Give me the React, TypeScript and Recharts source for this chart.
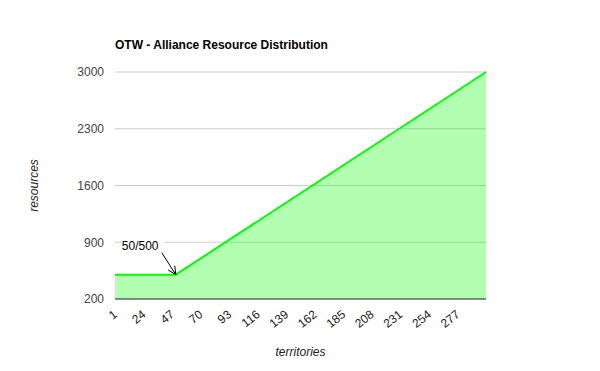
import React from "react";
import { AreaChart, Area, XAxis, YAxis, CartesianGrid, ReferenceDot, Label } from "recharts";

const territories = [1, 50, 300];
const resources = [500, 500, 3000];
const xTicks = [1, 24, 47, 70, 93, 116, 139, 162, 185, 208, 231, 254, 277];
const yTicks = [200, 900, 1600, 2300, 3000];
const annotationText = "50/500";
const annotationPoint = { t: 50, r: 500 };

const data = territories.map((t, i) => ({ t, r: resources[i] }));

const FONT = "'Liberation Sans', Arial, sans-serif";

const XTick = (props: any) => {
  const { x, y, payload } = props;
  const ax = x + 3;
  const ay = y + 9;
  return (
    <text
      x={ax}
      y={ay}
      textAnchor="end"
      fontFamily={FONT}
      fontSize={12}
      fill="#222"
      transform={`rotate(-38, ${ax}, ${ay})`}
    >
      {payload.value}
    </text>
  );
};

const Annotation = (props: any) => {
  const { cx, cy } = props;
  const sx = cx - 14;
  const sy = cy - 22;
  const ang = Math.atan2(cy - sy, cx - sx);
  const ah = 9;
  const a1 = ang + Math.PI - 0.45;
  const a2 = ang + Math.PI + 0.45;
  return (
    <g>
      <rect x={cx - 55} y={cy - 37} width={44} height={14} fill="#fff" />
      <text x={cx - 54} y={cy - 25} fontFamily={FONT} fontSize={12} fill="#000">
        {annotationText}
      </text>
      <line x1={sx} y1={sy} x2={cx} y2={cy} stroke="#000" strokeWidth={1} />
      <line x1={cx} y1={cy} x2={cx + ah * Math.cos(a1)} y2={cy + ah * Math.sin(a1)} stroke="#000" strokeWidth={1} />
      <line x1={cx} y1={cy} x2={cx + ah * Math.cos(a2)} y2={cy + ah * Math.sin(a2)} stroke="#000" strokeWidth={1} />
    </g>
  );
};

export default function App() {
  return (
    <div style={{ position: "absolute", left: 0, top: 0, width: 600, height: 371, background: "#fff" }}>
      <style>{`body{margin:0}`}</style>
      <div
        style={{
          position: "absolute",
          left: 115,
          top: 38,
          fontFamily: FONT,
          fontWeight: "bold",
          fontSize: 12,
          color: "#000",
          whiteSpace: "nowrap",
        }}
      >
        OTW - Alliance Resource Distribution
      </div>
      <AreaChart width={600} height={371} data={data} margin={{ top: 72, right: 114, bottom: 0, left: 0 }}>
        <CartesianGrid vertical={false} stroke="#ccc" horizontalValues={yTicks} />
        <XAxis
          dataKey="t"
          type="number"
          domain={[1, 300]}
          ticks={xTicks}
          interval={0}
          tick={<XTick />}
          tickLine={false}
          axisLine={{ stroke: "#333" }}
          height={72}
        >
          <Label value="territories" position="insideBottom" offset={15} style={{ fontFamily: FONT, fontSize: 12, fontStyle: "italic", fill: "#222" }} />
        </XAxis>
        <YAxis
          type="number"
          domain={[200, 3000]}
          ticks={yTicks}
          interval={0}
          width={115}
          tickLine={false}
          axisLine={false}
          tickMargin={5}
          tick={{ fontFamily: FONT, fontSize: 12, fill: "#444" }}
        >
          <Label value="resources" angle={-90} position="insideLeft" offset={34} style={{ fontFamily: FONT, fontSize: 12, fontStyle: "italic", fill: "#222", textAnchor: "middle" }} />
        </YAxis>
        <Area
          type="linear"
          dataKey="r"
          stroke="#00ff00"
          strokeWidth={2}
          fill="#00ff00"
          fillOpacity={0.3}
          baseValue={200}
          isAnimationActive={false}
          dot={false}
          activeDot={false}
        />
        <ReferenceDot x={annotationPoint.t} y={annotationPoint.r} shape={<Annotation />} />
      </AreaChart>
    </div>
  );
}
